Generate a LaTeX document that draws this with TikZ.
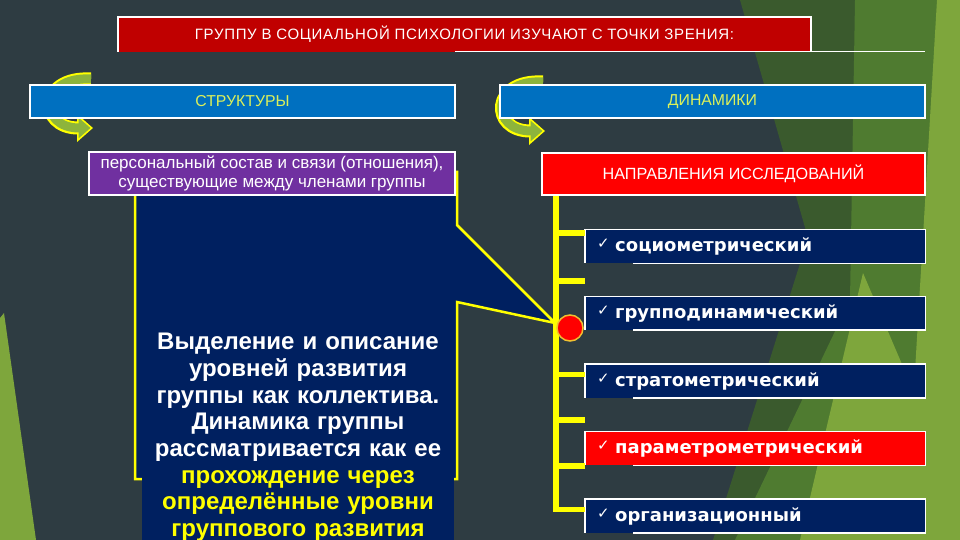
\documentclass[tikz,border=0pt]{standalone}
\usepackage{fontspec}
\setmainfont{Liberation Sans}
\newfontfamily\dejavu{DejaVu Sans}
\newfontfamily\spaced[LetterSpace=4.5]{Liberation Sans}
\usetikzlibrary{arrows.meta,positioning}
\definecolor{Slate}{HTML}{2E3C42}
\definecolor{Navy}{HTML}{002060}
\definecolor{TitleRed}{HTML}{C00000}
\definecolor{BrightRed}{HTML}{FF0000}
\definecolor{Ocean}{HTML}{0070C0}
\definecolor{Plum}{HTML}{7030A0}
\definecolor{Lemon}{HTML}{FFFF00}
\definecolor{Lime}{HTML}{DCF05A}
\definecolor{Leaf}{HTML}{8DB43C}
\definecolor{Amber}{HTML}{F0C030}
\definecolor{DarkLeaf}{HTML}{3A5A2D}
\definecolor{MidLeaf}{HTML}{4F7B30}
\definecolor{LightLeaf}{HTML}{7EA63C}
\newcommand{\chk}{\makebox[18pt][l]{\dejavu\fontsize{15}{15}\selectfont\mdseries\raisebox{3pt}{✓}}}
\tikzset{
  boxbase/.style={inner sep=0pt, align=center, text=white},
  wline/.style={draw=white, line width=1.6pt},
  titlebox/.style={boxbase, fill=TitleRed, minimum width=693pt, minimum height=34.5pt, font=\spaced\fontsize{15}{18}\selectfont},
  bluebox/.style={boxbase, fill=Ocean, draw=white, line width=1.6pt, text=Lime, minimum width=425pt, minimum height=33pt, font=\fontsize{15.8}{18}\selectfont},
  plumbox/.style={boxbase, fill=Plum, draw=white, line width=1.6pt, minimum width=366pt, minimum height=43pt, font=\fontsize{17}{19.5}\selectfont},
  redbox/.style={boxbase, fill=BrightRed, draw=white, line width=1.6pt, minimum width=383pt, minimum height=42pt, font=\fontsize{16.2}{19}\selectfont},
  itembox/.style={fill=Navy, text=white, anchor=west, text width=316pt, inner xsep=12pt, inner ysep=0pt, minimum height=33.5pt, align=left, font=\dejavu\bfseries\fontsize{18}{20}\selectfont},
  bigtext/.style={fill=Navy, text=white, anchor=north, text width=304pt, inner xsep=4pt, inner ysep=4pt, align=center, font=\bfseries\fontsize{24}{26.7}\selectfont},
  callout/.style={fill=Navy, draw=Lemon, line width=2.5pt},
  spinebar/.style={draw=Lemon, line width=5.5pt},
  hub/.style={circle, fill=BrightRed, draw=Amber, line width=1.5pt, minimum size=26pt, inner sep=0pt},
  arrowrim/.style={draw=Lemon, line width=13pt, -{Triangle[length=16pt,width=27pt]}},
  arrowbody/.style={draw=Leaf, line width=9pt, shorten >=2.5pt, -{Triangle[length=12pt,width=20pt]}}
}
\begin{document}
\begin{tikzpicture}[x=1pt,y=-1pt]
  \useasboundingbox (0,0) rectangle (960,540);
  \clip (0,0) rectangle (960,540);
  \fill[Slate] (0,0) rectangle (960,540);
  % leaves of the background
  \fill[DarkLeaf] (740,0) -- (960,0) -- (960,540) -- (713,540) -- (808,238) -- cycle;
  \fill[MidLeaf] (855,0) -- (960,0) -- (960,540) -- (735,540) -- (850,300) -- cycle;
  \fill[LightLeaf] (937,0) -- (960,0) -- (960,540) -- (905,540) -- cycle;
  \fill[LightLeaf] (863,273) -- (960,500) -- (960,540) -- (800,540) -- cycle;
  \fill[LightLeaf] (0,318) -- (4,313) -- (36,540) -- (0,540) -- cycle;

  % turning arrows
  \draw[arrowrim] (91,79) .. controls (38,76) and (38,128) .. (93,128);
  \draw[arrowbody] (91,79) .. controls (38,76) and (38,128) .. (93,128);
  \draw[arrowrim] (543,82) .. controls (490,79) and (490,131) .. (545,131);
  \draw[arrowbody] (543,82) .. controls (490,79) and (490,131) .. (545,131);

  % title
  \node[titlebox] (title) at (464.5,34.3) {ГРУППУ В СОЦИАЛЬНОЙ ПСИХОЛОГИИ ИЗУЧАЮТ С ТОЧКИ ЗРЕНИЯ:};
  \draw[wline] (title.south west) -- (title.north west) -- (title.north east) -- (title.south east);
  \draw[wline] (455,51.5) -- (925,51.5);

  \node[bluebox] (structure) at (242.5,101.5) {СТРУКТУРЫ};
  \node[bluebox] (dynamics) at (712.5,101.5) {ДИНАМИКИ};

  % left column
  \draw[callout] (135,172) -- (457,172) -- (457,225) -- (555,323) -- (457,302) -- (457,479) -- (135,479) -- cycle;
  \node[bigtext] (levels) at (298,329) {Выделение и описание\\
    уровней развития\\
    группы как коллектива.\\
    Динамика группы\\
    рассматривается как ее\\
    \textcolor{Lemon}{прохождение через}\\
    \textcolor{Lemon}{определённые уровни}\\
    \textcolor{Lemon}{группового развития}};
  \node[plumbox] (members) at (272,173.5) {персональный состав и связи (отношения),\\существующие между членами группы};

  % right column
  \node[redbox] (directions) at (733.5,174) {НАПРАВЛЕНИЯ ИССЛЕДОВАНИЙ};
  \coordinate (spinetop) at ([xshift=15pt]directions.south west);

  \node[itembox] (socio) at (585,246.5) {\chk социометрический};
  \node[itembox] (grupdyn) at (585,313.3) {\chk групподинамический};
  \node[itembox] (strato) at (585,381) {\chk стратометрический};
  \node[itembox, fill=BrightRed] (param) at (585,448.5) {\chk параметрометрический};
  \node[itembox] (organ) at (585,516) {\chk организационный};
  \foreach \n in {socio,grupdyn,strato,param,organ}
    \draw[wline] ([xshift=48pt]\n.south west) -- (\n.south east) -- (\n.north east) -- (\n.north west) -- (\n.south west);

  \draw[spinebar] (spinetop) -- (spinetop |- 0,509.5) -- (organ.west |- 0,509.5);
  \foreach \ty in {233,281,374.5,420,466}
    \draw[spinebar] (spinetop |- 0,\ty) -- (socio.west |- 0,\ty);

  \node[hub] (hub) at (570,328) {};
\end{tikzpicture}
\end{document}
